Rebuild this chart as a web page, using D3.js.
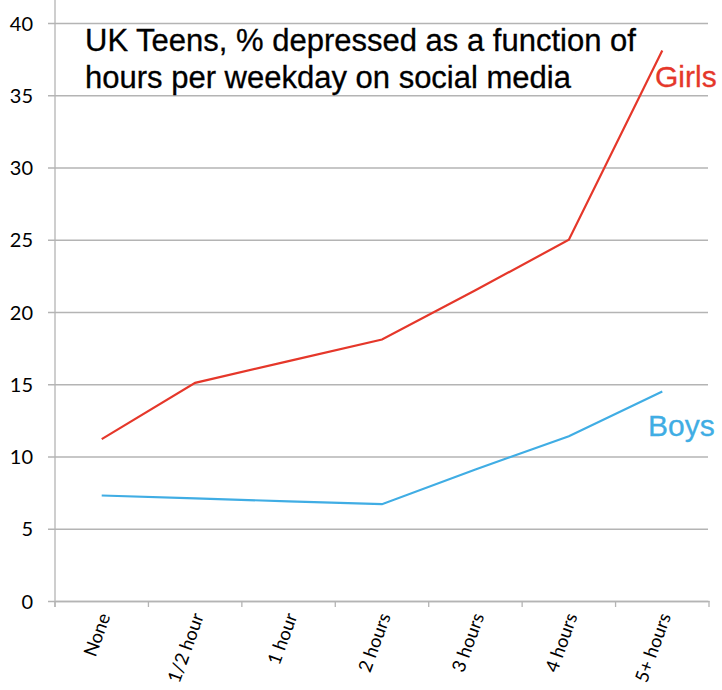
<!DOCTYPE html>
<html>
<head>
<meta charset="utf-8">
<script src="https://cdn.jsdelivr.net/npm/d3@7"></script>
<style>
  html, body { margin: 0; padding: 0; background: #fff; }
  svg { display: block; }
</style>
</head>
<body>
<svg id="chart" width="722" height="690"></svg>
<script>
// Hours per weekday on social media
const categories = ["None", "1/2 hour", "1 hour", "2 hours", "3 hours", "4 hours", "5+ hours"];
// Percent depressed
const girls = [11.2, 15.1, 16.6, 18.1, 21.5, 25.0, 38.1];
const boys = [7.3, 7.1, 6.9, 6.7, 9.1, 11.4, 14.5];
const yTicks = [0, 5, 10, 15, 20, 25, 30, 35, 40];

const svg = d3.select("#chart");
const left = 55, right = 709, bottom = 601;

const x = d3.scaleBand().domain(categories).range([left, right]).paddingInner(0).paddingOuter(0);
const y = d3.scaleLinear().domain([0, 40]).range([bottom, 23]);

const labelFont = "Lato, 'Open Sans', sans-serif";

// gridlines + y tick labels
const yAxis = d3.axisLeft(y).tickValues(yTicks).tickSize(-(708 - left)).tickSizeOuter(0).tickPadding(0);
const gy = svg.append("g").attr("transform", `translate(${left},0)`).call(yAxis);
gy.select(".domain").remove();
gy.selectAll(".tick line")
  .attr("x1", -7).attr("x2", 708 - left)
  .attr("stroke", "#b4b4b4").attr("stroke-width", 1.3);
gy.selectAll(".tick text")
  .attr("x", -22)
  .attr("dy", "0.36em")
  .attr("font-family", labelFont)
  .attr("font-size", 20)
  .attr("fill", "#000");

// vertical axis line
svg.append("line")
  .attr("x1", left).attr("x2", left)
  .attr("y1", 0).attr("y2", bottom + 6)
  .attr("stroke", "#b4b4b4").attr("stroke-width", 1.3);

// horizontal axis with ticks between categories
const xAxis = d3.axisBottom(x).tickSize(0).tickSizeOuter(0);
const gx = svg.append("g").attr("transform", `translate(0,${bottom})`).call(xAxis);
gx.select(".domain").attr("stroke", "#b4b4b4").attr("stroke-width", 1.3);
gx.selectAll(".tick line").remove();
const boundaries = categories.map(c => x(c)).concat([right]);
gx.selectAll("line.sep").data(boundaries).join("line")
  .attr("class", "sep")
  .attr("x1", d => d).attr("x2", d => d)
  .attr("y1", 0).attr("y2", 6)
  .attr("stroke", "#b4b4b4").attr("stroke-width", 1.3);
gx.selectAll(".tick text")
  .attr("font-family", labelFont)
  .attr("font-size", 18.5)
  .attr("fill", "#000")
  .attr("text-anchor", "end")
  .attr("y", 0).attr("dy", 0)
  .attr("transform", "translate(9,15) rotate(-70)");

// series lines
const line = d3.line()
  .x((d, i) => x(categories[i]) + x.bandwidth() / 2)
  .y(d => y(d));

svg.append("path").datum(boys)
  .attr("d", line).attr("fill", "none")
  .attr("stroke", "#40ade4").attr("stroke-width", 2.2);
svg.append("path").datum(girls)
  .attr("d", line).attr("fill", "none")
  .attr("stroke", "#e5372a").attr("stroke-width", 2.2);

// title
const titleFont = "'Liberation Sans', Arial, Helvetica, sans-serif";
const title = svg.append("text")
  .attr("font-family", titleFont)
  .attr("font-size", 31)
  .attr("fill", "#000")
  .attr("stroke", "#000").attr("stroke-width", 0.3);
title.append("tspan").attr("x", 85).attr("y", 51).text("UK Teens, % depressed as a function of");
title.append("tspan").attr("x", 85).attr("y", 88).text("hours per weekday on social media");

// series labels
svg.append("text")
  .attr("x", 655).attr("y", 87)
  .attr("font-family", titleFont).attr("font-size", 30)
  .attr("fill", "#e5372a").attr("stroke", "#e5372a").attr("stroke-width", 0.3)
  .text("Girls");
svg.append("text")
  .attr("x", 648).attr("y", 436)
  .attr("font-family", titleFont).attr("font-size", 30)
  .attr("fill", "#40ade4").attr("stroke", "#40ade4").attr("stroke-width", 0.3)
  .text("Boys");
</script>
</body>
</html>
